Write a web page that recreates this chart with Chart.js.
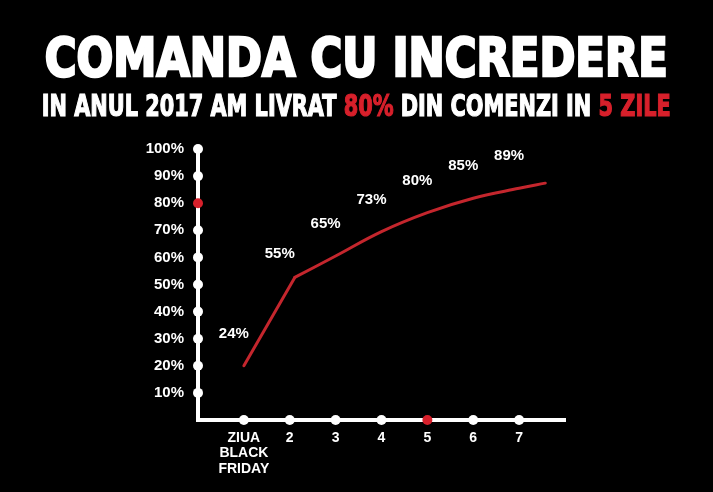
<!DOCTYPE html>
<html>
<head>
<meta charset="utf-8">
<script src="https://cdn.jsdelivr.net/npm/chart.js@4.4.1/dist/chart.umd.min.js"></script>
<style>
  html, body { margin: 0; padding: 0; background: #000; }
  #wrap { position: relative; width: 713px; height: 492px; overflow: hidden; }
  #chart { position: absolute; left: 0; top: 0; }
  .head {
    position: absolute; left: 0; width: 713px; display: flex; justify-content: center; color: #fff;
    font-family: "DejaVu Sans Condensed", "DejaVu Sans", sans-serif;
    font-stretch: condensed; font-weight: bold; white-space: nowrap;
  }
  .head span.fit { display: inline-block; flex: none; transform-origin: center top; }
  #title { top: 28px; font-size: 53px; line-height: 60px; -webkit-text-stroke: 2.5px #fff; }
  #sub { top: 89px; font-size: 30px; line-height: 34px; -webkit-text-stroke: 1.2px #fff; }
  .red { color: #d7202b; -webkit-text-stroke-color: #d7202b; }
</style>
</head>
<body>
<div id="wrap">
  <canvas id="chart" width="713" height="492"></canvas>
  <div class="head" id="title"><span class="fit" data-w="623">COMANDA CU INCREDERE</span></div>
  <div class="head" id="sub"><span class="fit" data-w="629">IN ANUL 2017 AM LIVRAT <span class="red">80%</span> DIN COMENZI IN <span class="red">5 ZILE</span></span></div>
</div>
<script>
let dayLabels = [['ZIUA', 'BLACK', 'FRIDAY'], '2', '3', '4', '5', '6', '7'],
    dayValues = [1, 2, 3, 4, 5, 6, 7],
    percentTicks = [10, 20, 30, 40, 50, 60, 70, 80, 90, 100],
    shareLabels = ['24%', '55%', '65%', '73%', '80%', '85%', '89%'],
    // first stretch is straight, then a smooth curve from the knee
    riseX = [1, 2.11],
    riseY = [20, 52.6],
    curveX = [2.11, 3, 4, 5, 6, 7, 7.57],
    curveY = [52.6, 60.5, 69.5, 76.5, 81.8, 85.5, 87.4],
    redDay = 5,
    redPercent = 80,
    white = '#ffffff',
    red = '#d7202b',
    lineRed = '#c4262d';

document.querySelectorAll('.fit').forEach(function (el) {
    let w = el.getBoundingClientRect().width;
    el.style.transform = 'scaleX(' + (el.getAttribute('data-w') / w) + ')';
});

function toPoints(xs, ys) {
    return xs.map(function (x, i) { return { x: x, y: ys[i] }; });
}

// value of the red line at a given day (straight pieces between read points)
function lineAt(day) {
    let xs = riseX.concat(curveX.slice(1)), ys = riseY.concat(curveY.slice(1));
    for (let i = 0; i < xs.length - 1; i++) {
        if (day >= xs[i] && day <= xs[i + 1]) {
            return ys[i] + (ys[i + 1] - ys[i]) * (day - xs[i]) / (xs[i + 1] - xs[i]);
        }
    }
    return ys[ys.length - 1];
}

const shareLabelPlugin = {
    id: 'shareLabels',
    afterDatasetsDraw(chart) {
        const ctx = chart.ctx, xs = chart.scales.x, ys = chart.scales.y;
        ctx.save();
        ctx.fillStyle = white;
        ctx.font = 'bold 15px "Liberation Sans", Arial, sans-serif';
        ctx.textAlign = 'center';
        ctx.textBaseline = 'middle';
        shareLabels.forEach(function (t, i) {
            let day = dayValues[i];
            ctx.fillText(t, xs.getPixelForValue(day) - 10, ys.getPixelForValue(lineAt(day)) - 32);
        });
        ctx.restore();
    }
};

const ctx = document.getElementById('chart').getContext('2d');
const chart = new Chart(ctx, {
    type: 'scatter',
    data: {
        datasets: [{
            type: 'line',
            data: toPoints(riseX, riseY),
            borderColor: lineRed,
            borderWidth: 3,
            pointRadius: 0,
            borderCapStyle: 'round',
            fill: false
        }, {
            type: 'line',
            data: toPoints(curveX, curveY),
            borderColor: lineRed,
            borderWidth: 3,
            pointRadius: 0,
            borderCapStyle: 'round',
            tension: 0.4,
            fill: false
        }, {
            data: dayValues.map(function (d) { return { x: d, y: 0 }; }),
            pointRadius: 5,
            pointBorderWidth: 0,
            pointBackgroundColor: dayValues.map(function (d) { return d === redDay ? red : white; }),
            clip: false
        }, {
            data: percentTicks.map(function (p) { return { x: 0, y: p }; }),
            pointRadius: 5,
            pointBorderWidth: 0,
            pointBackgroundColor: percentTicks.map(function (p) { return p === redPercent ? red : white; }),
            clip: false
        }]
    },
    options: {
        responsive: false,
        animation: false,
        layout: { padding: { top: 149, right: 148, left: 0, bottom: 0 } },
        plugins: { legend: { display: false }, tooltip: { enabled: false }, title: { display: false } },
        scales: {
            x: {
                type: 'linear',
                min: 0,
                max: 8,
                grid: { display: false, drawTicks: false },
                border: { color: white, width: 4 },
                afterFit: function (s) { s.height = 72; },
                afterBuildTicks: function (s) { s.ticks = dayValues.map(function (v) { return { value: v }; }); },
                ticks: {
                    color: white,
                    padding: 10,
                    maxRotation: 0,
                    autoSkip: false,
                    font: { family: '"Liberation Sans", Arial, sans-serif', size: 14, weight: 'bold', lineHeight: 1.12 },
                    callback: function (v) { return dayLabels[dayValues.indexOf(v)]; }
                }
            },
            y: {
                min: 0,
                max: 100,
                grid: { display: false, drawTicks: false },
                border: { color: white, width: 4 },
                afterFit: function (s) { s.width = 198; },
                afterBuildTicks: function (s) { s.ticks = percentTicks.map(function (v) { return { value: v }; }); },
                ticks: {
                    color: white,
                    padding: 14,
                    autoSkip: false,
                    font: { family: '"Liberation Sans", Arial, sans-serif', size: 15, weight: 'bold' },
                    callback: function (v) { return v + '%'; }
                }
            }
        }
    },
    plugins: [shareLabelPlugin]
});
</script>
</body>
</html>
